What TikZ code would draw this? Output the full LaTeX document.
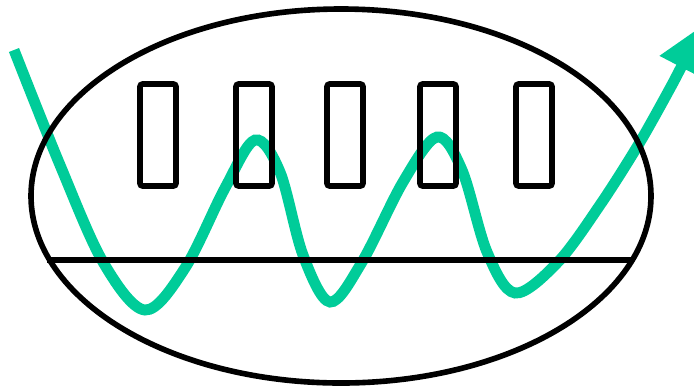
\documentclass[tikz,border=0pt]{standalone}
\usepackage{tikz}
\usetikzlibrary{arrows.meta}
\definecolor{wave}{HTML}{00CC99}

\begin{document}
\begin{tikzpicture}[x=0.02cm, y=-0.02cm,
  outline/.style={draw=black, line width=3.2pt},
  slot/.style={outline, rounded corners=1.5pt},
  wavy/.style={draw=wave, line width=6.2pt, -{Triangle[length=27pt, width=26pt]}}
]
\clip (0,0) rectangle (694,387);
\useasboundingbox (0,0) rectangle (694,387);

% ===== Wave =====
\coordinate (tip) at (703,25);
\draw[wavy] plot[smooth, tension=0.55] coordinates {
  (14,50) (60,165) (103,262) (145,310) (185,268) (225,188) (255,140)
  (280,172) (303,255) (330,302) (362,262) (403,182) (437,137)
  (462,170) (487,252) (515,293) (558,262) (600,205) (640,142) (674,81)}
  -- (tip);

% ===== Vessel =====
\coordinate (centre) at (341,196);
\draw[outline] (centre) ellipse [x radius=310, y radius=187];
\coordinate (baseL) at (47,260);
\coordinate (baseR) at (634,260);
\draw[outline] (baseL) -- (baseR);

% ===== Slots =====
\foreach \cx [count=\i] in {158,254,345,438,534}{
  \draw[slot] (\cx-18,84) rectangle (\cx+18,186);
}

\end{tikzpicture}
\end{document}
